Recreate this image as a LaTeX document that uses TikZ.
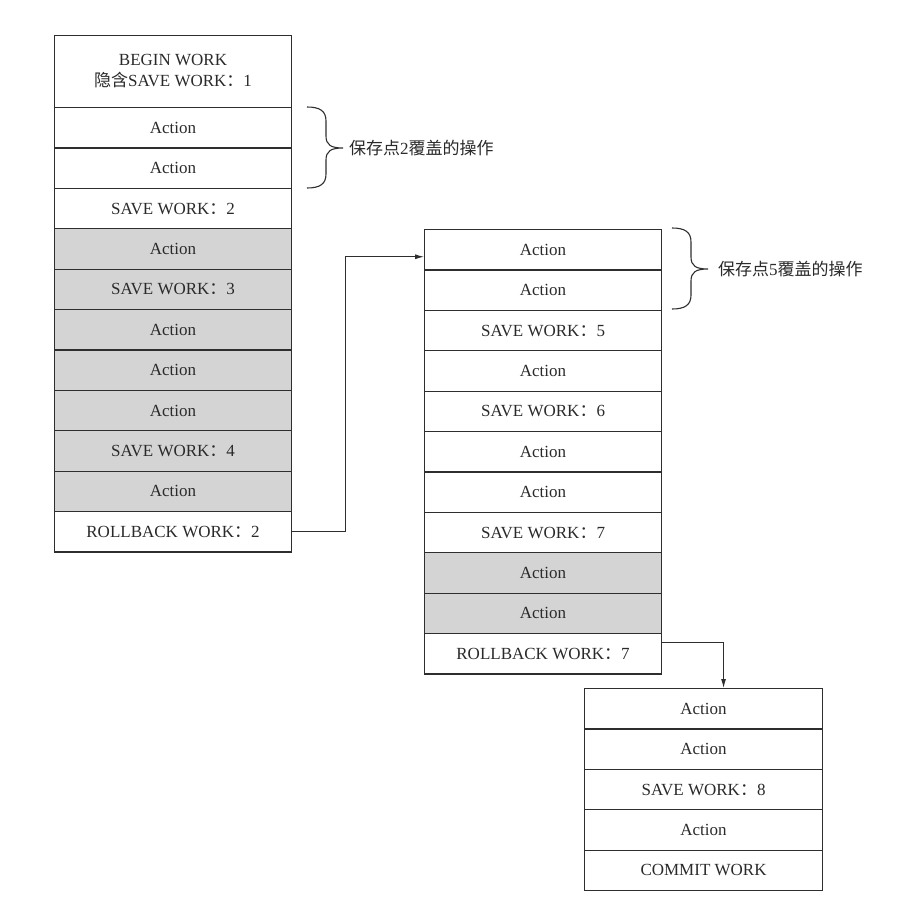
\documentclass[tikz,border=0pt]{standalone}
\usepackage{fontspec}
\setmainfont{Liberation Serif}
\newfontfamily\cjk{Noto Sans CJK SC}
\usetikzlibrary{arrows.meta}
\definecolor{linec}{HTML}{2E2E2E}
\definecolor{textc}{HTML}{2A2A2A}
\definecolor{grayc}{HTML}{D4D4D4}
\newcommand\cellfont{\fontsize{17}{21}\selectfont}
\newcommand\cln{{\cjk ：}}
\tikzset{
  cell/.style={draw=linec, line width=1.1pt, minimum width=237pt, minimum height=40.4pt,
    anchor=north west, inner sep=0pt, font=\cellfont, text=textc, align=center},
  shaded/.style={cell, fill=grayc},
  conn/.style={draw=linec, line width=1pt, -{Latex[length=9pt,width=5pt]}},
  bracestyle/.style={draw=linec, line width=1.1pt},
  bracelabel/.style={anchor=west, inner sep=0pt, font=\cellfont, text=textc},
  curlybrace/.pic={
    \draw[bracestyle] (0,0) .. controls (13,0) and (19,4) .. (19,14) -- (19,29)
      .. controls (19,38) and (24,41) .. (36,41)
      .. controls (24,41) and (19,44) .. (19,53) -- (19,67)
      .. controls (19,77) and (13,81) .. (0,81);
  }
}
\begin{document}
\begin{tikzpicture}[x=1pt,y=-1pt]
\useasboundingbox (0,0) rectangle (900,918);
% left column
\node[cell, minimum height=72pt] (L0) at (54,35) {BEGIN WORK\\{\cjk 隐含}SAVE WORK\cln 1};
\node[cell]   (L1)  at (54,107.0) {Action};
\node[cell]   (L2)  at (54,147.4) {Action};
\node[cell]   (L3)  at (54,187.8) {SAVE WORK\cln 2};
\node[shaded] (L4)  at (54,228.2) {Action};
\node[shaded] (L5)  at (54,268.6) {SAVE WORK\cln 3};
\node[shaded] (L6)  at (54,309.0) {Action};
\node[shaded] (L7)  at (54,349.4) {Action};
\node[shaded] (L8)  at (54,389.8) {Action};
\node[shaded] (L9)  at (54,430.2) {SAVE WORK\cln 4};
\node[shaded] (L10) at (54,470.6) {Action};
\node[cell]   (L11) at (54,511.0) {ROLLBACK WORK\cln 2};
% middle column
\node[cell]   (M1)  at (424,229.0) {Action};
\node[cell]   (M2)  at (424,269.4) {Action};
\node[cell]   (M3)  at (424,309.8) {SAVE WORK\cln 5};
\node[cell]   (M4)  at (424,350.2) {Action};
\node[cell]   (M5)  at (424,390.6) {SAVE WORK\cln 6};
\node[cell]   (M6)  at (424,431.0) {Action};
\node[cell]   (M7)  at (424,471.4) {Action};
\node[cell]   (M8)  at (424,511.8) {SAVE WORK\cln 7};
\node[shaded] (M9)  at (424,552.2) {Action};
\node[shaded] (M10) at (424,592.6) {Action};
\node[cell]   (M11) at (424,633.0) {ROLLBACK WORK\cln 7};
% right column
\node[cell, minimum width=238pt] (R1) at (584,688.0) {Action};
\node[cell, minimum width=238pt] (R2) at (584,728.4) {Action};
\node[cell, minimum width=238pt] (R3) at (584,768.8) {SAVE WORK\cln 8};
\node[cell, minimum width=238pt] (R4) at (584,809.2) {Action};
\node[cell, minimum width=238pt] (R5) at (584,849.6) {COMMIT WORK};
% braces and labels
\pic at (307,107) {curlybrace};
\node[bracelabel] (T1) at (349,148) {{\cjk 保存点}2{\cjk 覆盖的操作}};
\pic at (672,228) {curlybrace};
\node[bracelabel] (T2) at (718,269) {{\cjk 保存点}5{\cjk 覆盖的操作}};
% connectors
\coordinate (a1) at ([yshift=-7pt]M1.west);
\draw[conn] (L11.east) -- ++(53,0) |- (a1);
\coordinate (b0) at ([yshift=11pt]M11.east);
\coordinate (b1) at ([xshift=20pt]R1.north);
\draw[conn] (b0) -| (b1);
\end{tikzpicture}
\end{document}
